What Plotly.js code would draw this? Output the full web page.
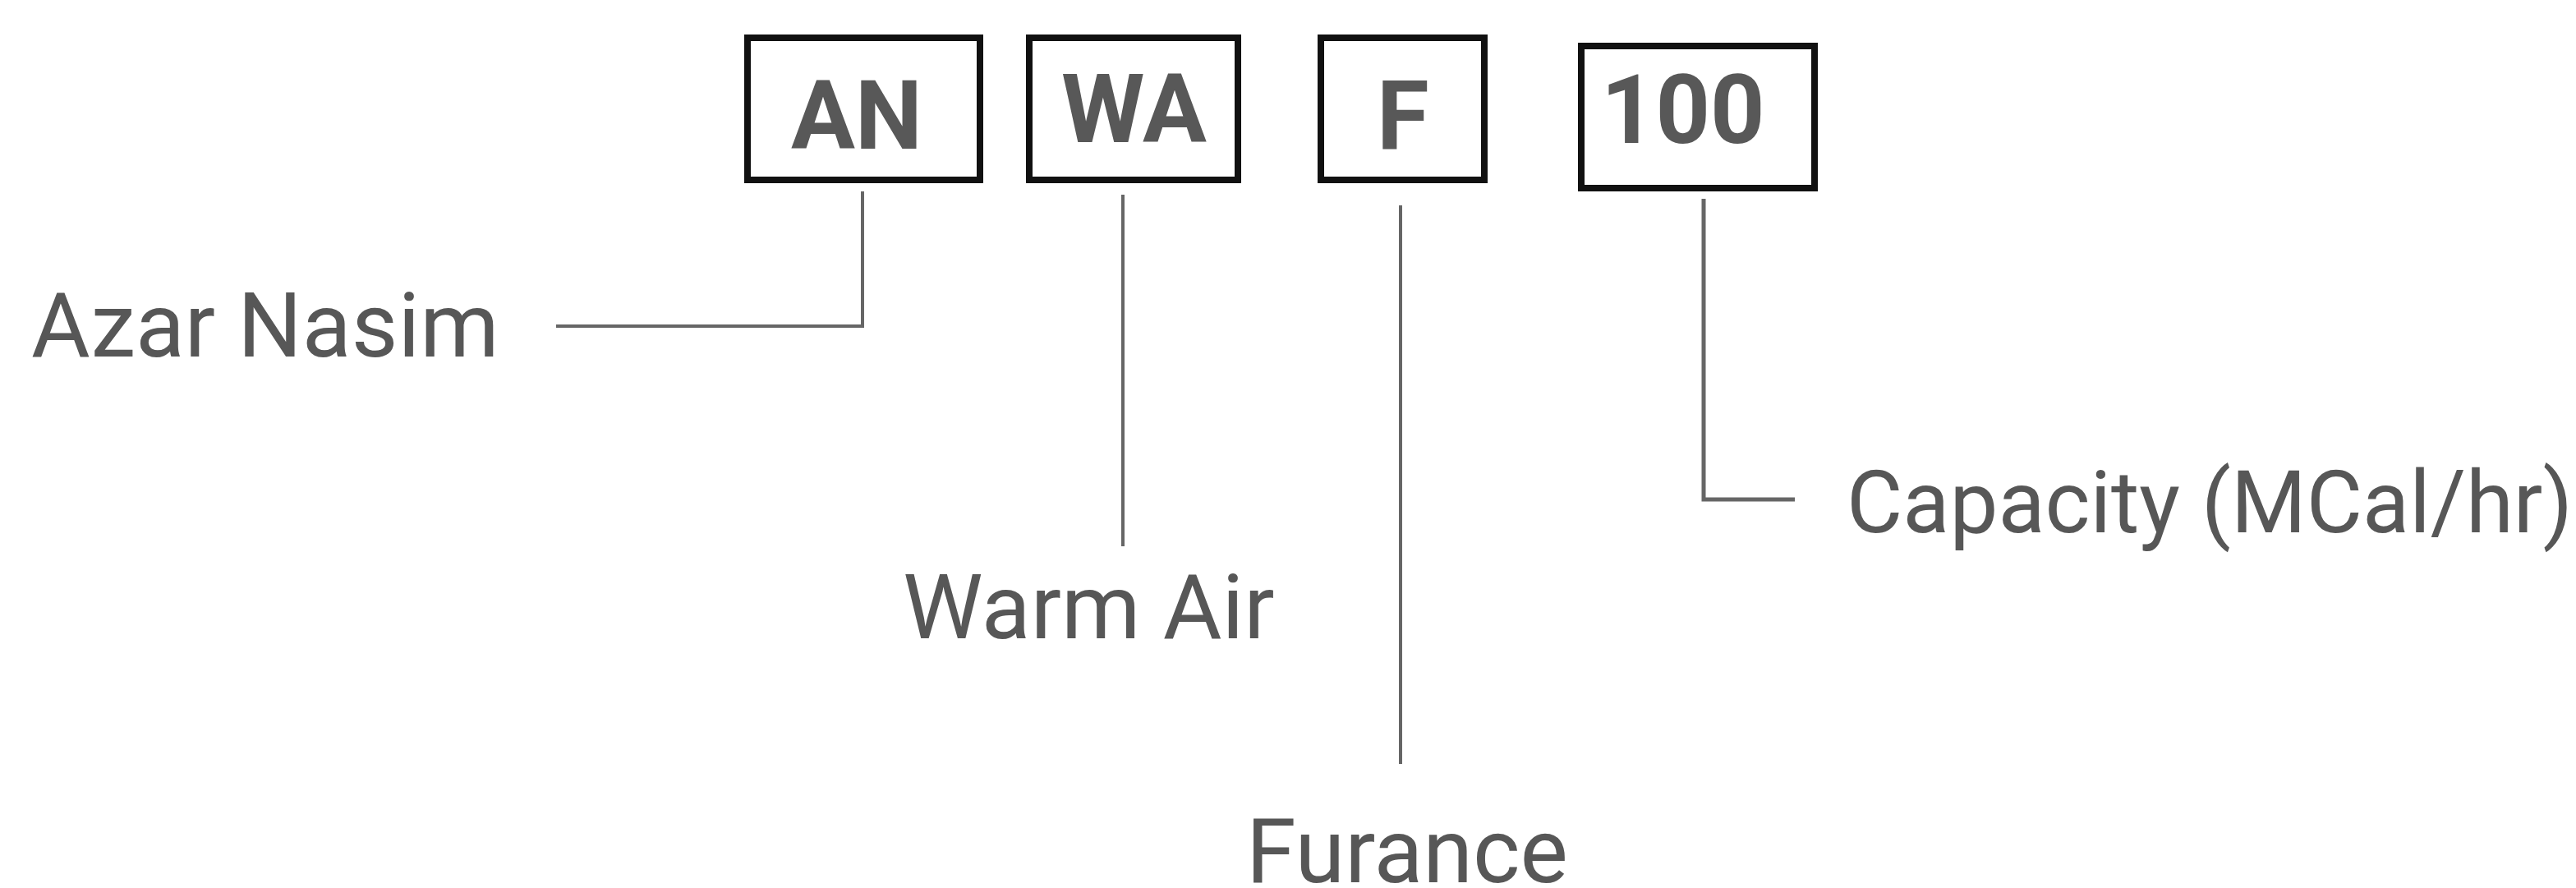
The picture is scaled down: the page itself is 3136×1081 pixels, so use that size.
<!DOCTYPE html>
<html>
<head>
<meta charset="utf-8">
<script src="https://cdn.plot.ly/plotly-3.0.1.min.js"></script>
<style>html,body{margin:0;padding:0;background:#fff;}#chart{width:3136px;height:1081px;}</style>
</head>
<body>
<div id="chart"></div>
<script>
// Data: code segments and their meanings
var codes = ['AN', 'WA', 'F', '100'];
var labels = ['Azar Nasim', 'Warm Air', 'Furance', 'Capacity (MCal/hr)'];

// Layout geometry (pixel space, y downward)
var boxGeom = [
  {x0: 906, x1: 1197, y0: 42, y1: 223, tx: 1043, ty: 141},
  {x0: 1249, x1: 1511, y0: 42, y1: 223, tx: 1380, ty: 133},
  {x0: 1604, x1: 1811, y0: 42, y1: 223, tx: 1708, ty: 141},
  {x0: 1921, x1: 2213, y0: 52, y1: 233, tx: 2049, ty: 134}
];
var leaderPaths = [
  'M1050,233 L1050,397 L677,397',
  'M1367,237 L1367,665',
  'M1705,250 L1705,930',
  'M2074,242 L2074,608 L2185,608'
];
var labelGeom = [
  {x: 323, y: 396, anchor: 'center', size: 110},
  {x: 1325, y: 739, anchor: 'center', size: 110},
  {x: 1713, y: 1036, anchor: 'center', size: 110},
  {x: 2246, y: 612, anchor: 'left', size: 105}
];

var shapes = [];
var annotations = [];
var bw = 8;
codes.forEach(function (c, i) {
  var g = boxGeom[i];
  shapes.push({type: 'rect', xref: 'x', yref: 'y',
    x0: g.x0 + bw / 2, x1: g.x1 - bw / 2, y0: g.y0 + bw / 2, y1: g.y1 - bw / 2,
    line: {color: '#111111', width: bw}, fillcolor: 'rgba(0,0,0,0)'});
  annotations.push({x: g.tx, y: g.ty, xref: 'x', yref: 'y', text: c, showarrow: false,
    xanchor: 'center', yanchor: 'middle',
    font: {family: 'Roboto, sans-serif', size: 116, color: '#585858', weight: 700}});
  shapes.push({type: 'path', xref: 'x', yref: 'y', path: leaderPaths[i],
    line: {color: '#666666', width: i === 3 ? 5 : 4}});
  var l = labelGeom[i];
  annotations.push({x: l.x, y: l.y, xref: 'x', yref: 'y', text: labels[i], showarrow: false,
    xanchor: l.anchor, yanchor: 'middle',
    font: {family: 'Roboto, sans-serif', size: l.size, color: '#575757'}});
});

var layout = {
  width: 3136, height: 1081,
  margin: {l: 0, r: 0, t: 0, b: 0, pad: 0},
  paper_bgcolor: '#ffffff', plot_bgcolor: '#ffffff',
  xaxis: {range: [0, 3136], visible: false, fixedrange: true},
  yaxis: {range: [1081, 0], visible: false, fixedrange: true},
  showlegend: false,
  shapes: shapes,
  annotations: annotations
};

Plotly.newPlot('chart', [{x: [], y: [], type: 'scatter', mode: 'markers', hoverinfo: 'skip'}], layout,
  {staticPlot: true, displayModeBar: false});
</script>
</body>
</html>
